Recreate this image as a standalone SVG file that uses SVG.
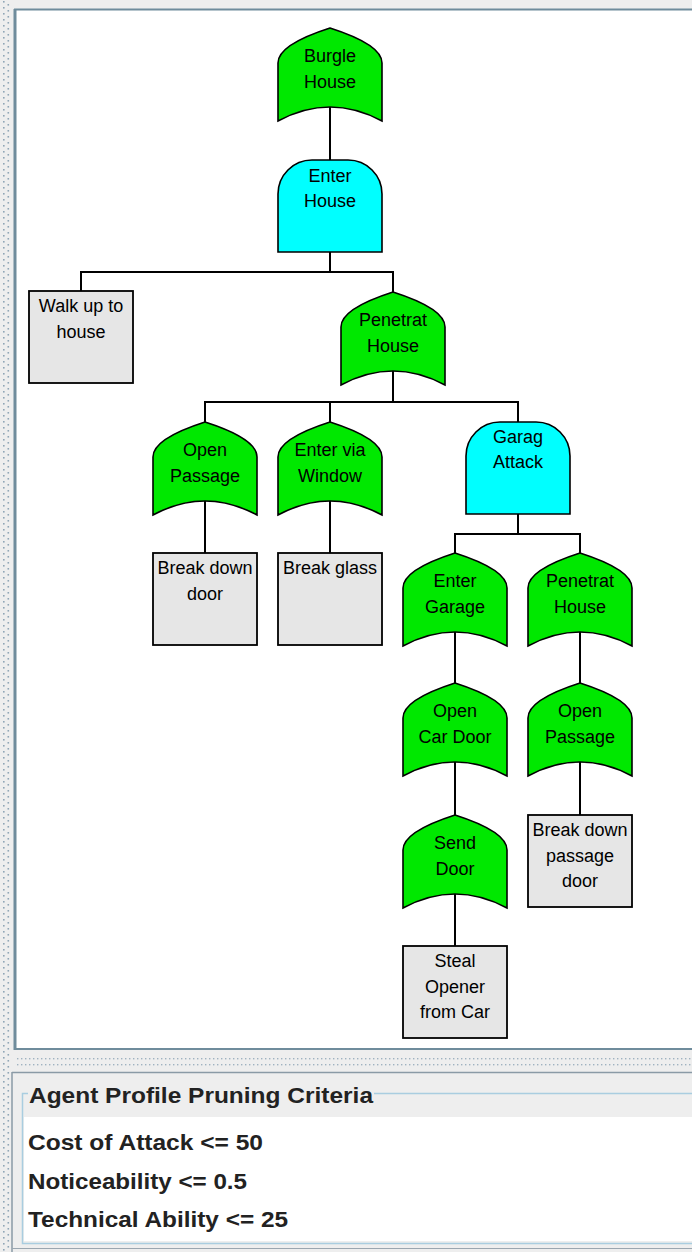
<svg xmlns="http://www.w3.org/2000/svg" width="692" height="1252" viewBox="0 0 692 1252">
<style>
.or{fill:#00e800;stroke:#000;stroke-width:1.6}
.and{fill:#00ffff;stroke:#000;stroke-width:1.6}
.box{fill:#e6e6e6;stroke:#000;stroke-width:1.8}
.lbl{font-family:"Liberation Sans",Arial,sans-serif;font-size:18px;fill:#000;text-anchor:middle}
.wire{fill:none;stroke:#000;stroke-width:2}
.crit{font-family:"Liberation Sans",Arial,sans-serif;font-size:22px;font-weight:bold;fill:#222}
</style>
<defs>
<pattern id="vdots" width="12" height="6" patternUnits="userSpaceOnUse">
<rect x="3" y="1" width="1.6" height="1.6" fill="#8fa6b6"/>
<rect x="7.5" y="4" width="1.6" height="1.6" fill="#8fa6b6"/>
</pattern>
<pattern id="hdots" width="4" height="6" patternUnits="userSpaceOnUse">
<rect x="1" y="2" width="1.4" height="1.4" fill="#9fb2c0"/>
</pattern>
</defs>
<!-- frame -->
<rect x="0" y="0" width="692" height="1252" fill="#eeeeee"/>
<rect x="0" y="0" width="12" height="1252" fill="url(#vdots)"/>
<rect x="16" y="10" width="676" height="1038" fill="#ffffff"/>
<line x1="14" y1="9.5" x2="692" y2="9.5" stroke="#6f8c9c" stroke-width="2"/>
<line x1="15" y1="9" x2="15" y2="1050" stroke="#6f8c9c" stroke-width="3"/>
<line x1="14" y1="1049" x2="692" y2="1049" stroke="#6f8c9c" stroke-width="2"/>
<rect x="16" y="1058" width="676" height="8" fill="url(#hdots)"/>
<line x1="12" y1="1072.5" x2="692" y2="1072.5" stroke="#8a9aa6" stroke-width="1.5"/>
<line x1="12" y1="1072" x2="12" y2="1252" stroke="#8a9aa6" stroke-width="1.5"/>
<line x1="12" y1="1248.5" x2="692" y2="1248.5" stroke="#9aa6b0" stroke-width="1"/>
<rect x="24" y="1117" width="668" height="124" fill="#ffffff"/>
<path d="M28,1093.5 L22.5,1093.5 L22.5,1243.5 L692,1243.5 M374,1093.5 L692,1093.5" fill="none" stroke="#a9cde0" stroke-width="1.5"/>
<text class="crit" x="29" y="1103" textLength="344" lengthAdjust="spacingAndGlyphs">Agent Profile Pruning Criteria</text>
<text class="crit" x="28" y="1150" textLength="235" lengthAdjust="spacingAndGlyphs">Cost of Attack &lt;= 50</text>
<text class="crit" x="28" y="1189" textLength="219" lengthAdjust="spacingAndGlyphs">Noticeability &lt;= 0.5</text>
<text class="crit" x="28" y="1227" textLength="260" lengthAdjust="spacingAndGlyphs">Technical Ability &lt;= 25</text>

<g id="connectors">
<path class="wire" d="M330,106 L330,160"/>
<path class="wire" d="M330,252 L330,272 M81,291 L81,272 L393,272 L393,292"/>
<path class="wire" d="M393,371 L393,402 M205,422 L205,402 L518,402 L518,422 M330,402 L330,422"/>
<path class="wire" d="M205,501 L205,553"/>
<path class="wire" d="M330,501 L330,553"/>
<path class="wire" d="M518,514 L518,534 M455,553 L455,534 L580,534 L580,553"/>
<path class="wire" d="M455,632 L455,683"/>
<path class="wire" d="M580,632 L580,683"/>
<path class="wire" d="M455,762 L455,815"/>
<path class="wire" d="M580,762 L580,815"/>
<path class="wire" d="M455,894 L455,946"/>
</g>

<g id="burgle-house">
<path class="or" d="M278,63 C278,48 305,36 330,28 C355,36 382,48 382,63 L382,121 Q330,93 278,121 Z"/>
<text class="lbl" x="330" y="62">Burgle</text>
<text class="lbl" x="330" y="88">House</text>
</g>
<g id="enter-house">
<path class="and" d="M278,252 L278,194 A34,34 0 0 1 312,160 L348,160 A34,34 0 0 1 382,194 L382,252 Z"/>
<text class="lbl" x="330" y="182">Enter</text>
<text class="lbl" x="330" y="207">House</text>
</g>
<g id="walk-up">
<rect class="box" x="29" y="291" width="104" height="92"/>
<text class="lbl" x="81" y="312">Walk up to</text>
<text class="lbl" x="81" y="338">house</text>
</g>
<g id="penetrat-house-1">
<path class="or" d="M341,327 C341,312 368,300 393,292 C418,300 445,312 445,327 L445,385 Q393,357 341,385 Z"/>
<text class="lbl" x="393" y="326">Penetrat</text>
<text class="lbl" x="393" y="352">House</text>
</g>
<g id="open-passage-1">
<path class="or" d="M153,457 C153,442 180,430 205,422 C230,430 257,442 257,457 L257,515 Q205,487 153,515 Z"/>
<text class="lbl" x="205" y="456">Open</text>
<text class="lbl" x="205" y="482">Passage</text>
</g>
<g id="enter-window">
<path class="or" d="M278,457 C278,442 305,430 330,422 C355,430 382,442 382,457 L382,515 Q330,487 278,515 Z"/>
<text class="lbl" x="330" y="456">Enter via</text>
<text class="lbl" x="330" y="482">Window</text>
</g>
<g id="garag-attack">
<path class="and" d="M466,514 L466,456 A34,34 0 0 1 500,422 L536,422 A34,34 0 0 1 570,456 L570,514 Z"/>
<text class="lbl" x="518" y="443">Garag</text>
<text class="lbl" x="518" y="468">Attack</text>
</g>
<g id="break-door">
<rect class="box" x="153" y="553" width="104" height="92"/>
<text class="lbl" x="205" y="574">Break down</text>
<text class="lbl" x="205" y="600">door</text>
</g>
<g id="break-glass">
<rect class="box" x="278" y="553" width="104" height="92"/>
<text class="lbl" x="330" y="574">Break glass</text>
</g>
<g id="enter-garage">
<path class="or" d="M403,588 C403,573 430,561 455,553 C480,561 507,573 507,588 L507,646 Q455,618 403,646 Z"/>
<text class="lbl" x="455" y="587">Enter</text>
<text class="lbl" x="455" y="613">Garage</text>
</g>
<g id="penetrat-house-2">
<path class="or" d="M528,588 C528,573 555,561 580,553 C605,561 632,573 632,588 L632,646 Q580,618 528,646 Z"/>
<text class="lbl" x="580" y="587">Penetrat</text>
<text class="lbl" x="580" y="613">House</text>
</g>
<g id="open-car-door">
<path class="or" d="M403,718 C403,703 430,691 455,683 C480,691 507,703 507,718 L507,776 Q455,748 403,776 Z"/>
<text class="lbl" x="455" y="717">Open</text>
<text class="lbl" x="455" y="743">Car Door</text>
</g>
<g id="open-passage-2">
<path class="or" d="M528,718 C528,703 555,691 580,683 C605,691 632,703 632,718 L632,776 Q580,748 528,776 Z"/>
<text class="lbl" x="580" y="717">Open</text>
<text class="lbl" x="580" y="743">Passage</text>
</g>
<g id="send-door">
<path class="or" d="M403,850 C403,835 430,823 455,815 C480,823 507,835 507,850 L507,908 Q455,880 403,908 Z"/>
<text class="lbl" x="455" y="849">Send</text>
<text class="lbl" x="455" y="875">Door</text>
</g>
<g id="break-passage-door">
<rect class="box" x="528" y="815" width="104" height="92"/>
<text class="lbl" x="580" y="836">Break down</text>
<text class="lbl" x="580" y="862">passage</text>
<text class="lbl" x="580" y="887">door</text>
</g>
<g id="steal-opener">
<rect class="box" x="403" y="946" width="104" height="92"/>
<text class="lbl" x="455" y="967">Steal</text>
<text class="lbl" x="455" y="993">Opener</text>
<text class="lbl" x="455" y="1018">from Car</text>
</g>
</svg>
